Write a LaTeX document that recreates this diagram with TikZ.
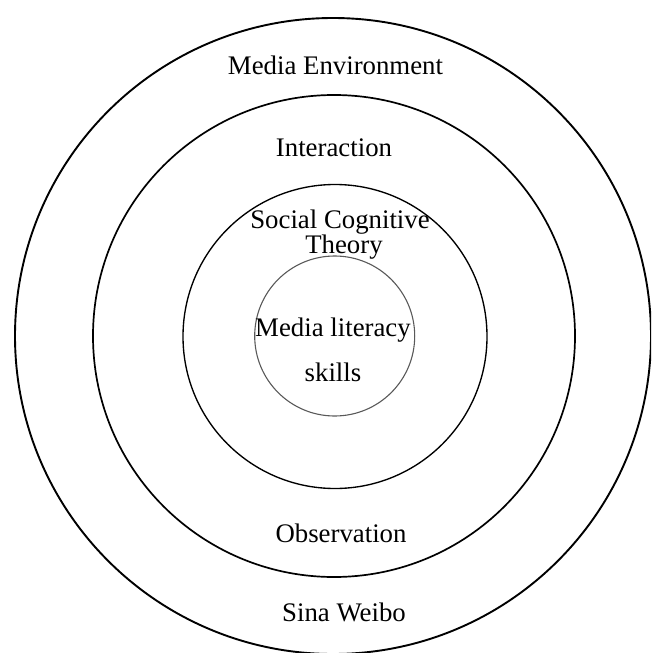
\documentclass[tikz,border=0pt]{standalone}
\usepackage{fontspec}
\setmainfont{Liberation Serif}
\begin{document}
\begin{tikzpicture}[x=1pt,y=-1pt,
  lbl/.style={anchor=base,inner sep=0pt,font=\fontsize{26.8}{28}\selectfont},
  ring/.style={draw=black,line width=1.7pt}]
\useasboundingbox (0,0) rectangle (651,653);
\clip (0,0) rectangle (651,653);
\draw[ring,line width=1.9pt] (333,336) circle (318);
\draw[ring] (334,336) circle (241);
\draw[ring,line width=1.35pt] (335,336.5) circle (152);
\draw[draw=black!65,line width=1.1pt] (334.7,336) circle (80);
\node[lbl] (env) at (335.5,74) {Media Environment};
\node[lbl] (inter) at (334,156) {Interaction};
\node[lbl] (sct1) at (340,228) {Social Cognitive};
\node[lbl] (sct2) at (344,253) {Theory};
\node[lbl] (ml1) at (333,336) {Media literacy};
\node[lbl] (ml2) at (333,381) {skills};
\node[lbl] (obs) at (341,542) {Observation};
\node[lbl] (sina) at (344,621) {Sina Weibo};
\end{tikzpicture}
\end{document}
